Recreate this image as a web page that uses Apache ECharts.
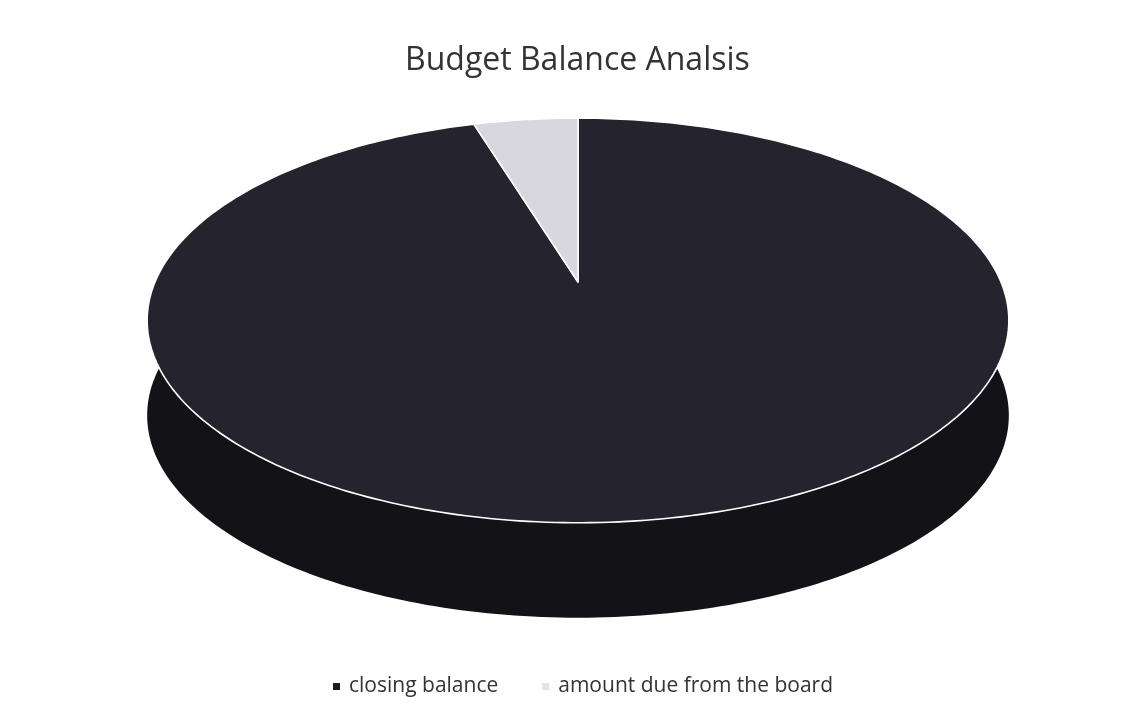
<!DOCTYPE html>
<html>
<head>
<meta charset="utf-8">
<script src="https://cdn.jsdelivr.net/npm/echarts@6/dist/echarts.min.js"></script>
<style>
  html, body { margin: 0; padding: 0; background: #ffffff; }
  #chart { width: 1131px; height: 717px; }
</style>
</head>
<body>
<div id="chart"></div>
<script>
// ---- data ----
const titleText = 'Budget Balance Analsis';
const categories = ['closing balance', 'amount due from the board'];
const values = [95.3, 4.7];

// ---- styles ----
const topColors = ['#25242e', '#d7d7dd'];
const wallColors = ['#131217', '#a9a9b0'];
const legendColors = ['#1c1b22', '#e2e2e8'];

// 3D pie projection (Excel-like perspective)
const G = { x0: 578, y0: 282, A: 423, B: 195, k: 0.19, depth: 95 };
const total = values.reduce((a, b) => a + b, 0);
function startAngle(i) {
  let s = 0;
  for (let j = 0; j < i; j++) s += values[j];
  return s / total * 360;
}
function proj(deg, dy) {
  const r = deg * Math.PI / 180;
  const u = Math.sin(r), v = -Math.cos(r);
  const f = 1 / (1 - G.k * v);
  return [G.x0 + G.A * u * f, G.y0 + G.B * v * f + dy];
}
function arc(a1, a2, dy) {
  const pts = [];
  const n = Math.max(2, Math.ceil(Math.abs(a2 - a1)));
  for (let i = 0; i <= n; i++) pts.push(proj(a1 + (a2 - a1) * i / n, dy));
  return pts;
}
function makeRender(i) {
  return function (params, api) {
    const a1 = startAngle(i);
    const a2 = a1 + api.value(0) / total * 360;
    const children = [];
    const w1 = Math.max(a1, 70), w2 = Math.min(a2, 290);
    if (w2 > w1) {
      const top = arc(w1, w2, 0);
      const bot = arc(w1, w2, G.depth).reverse();
      children.push({
        type: 'polygon', z2: 1,
        shape: { points: top.concat(bot) },
        style: { fill: wallColors[i] }
      });
    }
    children.push({
      type: 'polygon', z2: 10,
      shape: { points: [[G.x0, G.y0]].concat(arc(a1, a2, 0)) },
      style: { fill: topColors[i], stroke: '#ffffff', lineWidth: 1.6, lineJoin: 'round' }
    });
    return { type: 'group', children: children };
  };
}

const chart = echarts.init(document.getElementById('chart'), null, { renderer: 'canvas' });
chart.setOption({
  backgroundColor: '#ffffff',
  animation: false,
  title: {
    text: titleText,
    left: 400,
    top: 40,
    textStyle: { fontFamily: 'Open Sans', fontSize: 32, fontWeight: 'normal', color: '#333333' }
  },
  legend: {
    data: categories,
    left: 328,
    top: 671,
    icon: 'rect',
    itemWidth: 7,
    itemHeight: 7,
    itemGap: 44,
    textStyle: { fontFamily: 'Open Sans', fontSize: 21, color: '#333333', padding: [0, 0, 0, 4] }
  },
  series: categories.map((name, i) => ({
    type: 'custom',
    name: name,
    coordinateSystem: 'none',
    itemStyle: { color: legendColors[i] },
    renderItem: makeRender(i),
    data: [[values[i]]]
  }))
});
</script>
</body>
</html>
